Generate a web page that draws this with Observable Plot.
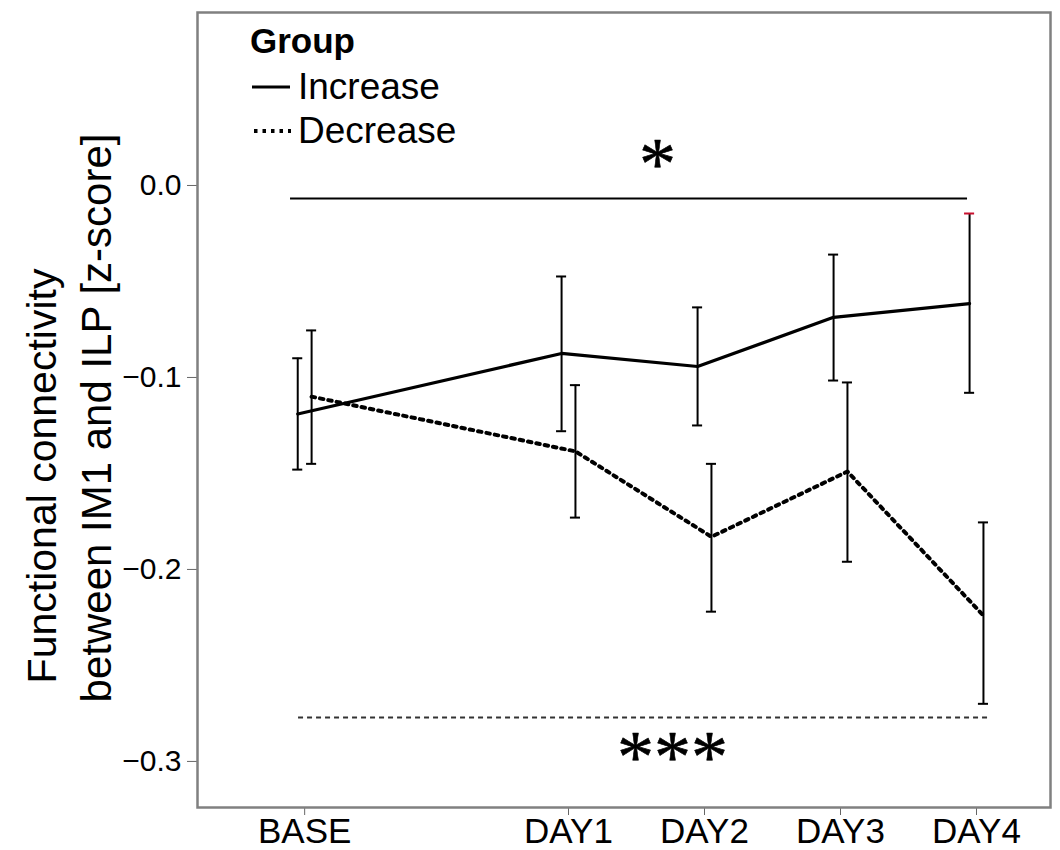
<!DOCTYPE html>
<html>
<head>
<meta charset="utf-8">
<script src="https://cdn.jsdelivr.net/npm/d3@7"></script>
<script src="https://cdn.jsdelivr.net/npm/@observablehq/plot@0.6"></script>
<style>
  html, body { margin: 0; padding: 0; background: white; }
  #wrap { position: relative; width: 1060px; height: 850px; font-family: "Liberation Sans", Arial, Helvetica, sans-serif; }
  #legend { position: absolute; left: 0; top: 0; pointer-events: none; }
</style>
</head>
<body>
<div id="wrap"></div>
<script>
// ---------------- data ----------------
const sessions = ["BASE", "DAY1", "DAY2", "DAY3", "DAY4"];
const sessionPos = [-0.94, 1, 2, 3, 4];
const groups = ["Increase", "Decrease"];

const incMean = [-0.119, -0.0875, -0.0943, -0.0687, -0.0615];
const incLo   = [-0.148, -0.128, -0.125, -0.1016, -0.108];
const incHi   = [-0.090, -0.0474, -0.0635, -0.036, -0.0146];

const decMean = [-0.110, -0.1385, -0.183, -0.149, -0.224];
const decLo   = [-0.145, -0.173, -0.222, -0.196, -0.270];
const decHi   = [-0.0755, -0.104, -0.145, -0.1026, -0.1755];

const yTicks = [0, -0.1, -0.2, -0.3];
const yTitle = ["Functional connectivity", "between IM1 and ILP [z-score]"];
const legendTitle = "Group";

// significance brackets (data units)
const sigInc = {y: -0.0068, x1: -1.044, x2: 3.934, label: "*", lx: 1.654, ly: 0.0156};
const sigDec = {y: -0.2771, x1: -0.985, x2: 4.088, label: "***", lx: 1.765, ly: -0.2932};

// ---------------- build ----------------
const dodge = {Increase: -0.051, Decrease: 0.051};
function rows(group, mean, lo, hi) {
  return sessions.map((s, i) => ({group, session: s, x: sessionPos[i] + dodge[group], mean: mean[i], lo: lo[i], hi: hi[i]}));
}
const inc = rows("Increase", incMean, incLo, incHi);
const dec = rows("Decrease", decMean, decLo, decHi);
const all = inc.concat(dec);
const cap = 0.037;
const isRed = d => d.group === "Increase" && d.session === "DAY4";

const chart = Plot.plot({
  width: 1060,
  height: 850,
  marginTop: 12,
  marginBottom: 43,
  marginLeft: 197,
  marginRight: 10,
  style: {fontFamily: "'Liberation Sans', Arial, Helvetica, sans-serif", background: "white", color: "black"},
  x: {domain: [-1.728, 4.544]},
  y: {domain: [-0.324, 0.0901]},
  marks: [
    Plot.axisY({ticks: yTicks, tickFormat: d3.format(".1f"), fontSize: 30, tickSize: 10, tickPadding: 6, stroke: "#666", fill: "black", label: null}),
    Plot.axisX({ticks: sessionPos, tickFormat: (d, i) => sessions[i], fontSize: 35, tickSize: 8, tickPadding: 3, stroke: "#666", fill: "black", label: null}),
    Plot.frame({stroke: "#808080", strokeWidth: 2.5}),
    // significance lines
    Plot.ruleY([sigInc], {y: "y", x1: "x1", x2: "x2", stroke: "black", strokeWidth: 2}),
    Plot.ruleY([sigDec], {y: "y", x1: "x1", x2: "x2", stroke: "#333", strokeWidth: 2, strokeDasharray: "5,4"}),
    Plot.text([sigInc, sigDec], {x: "lx", y: "ly", text: "label", fontFamily: "'Liberation Serif', 'Times New Roman', serif", fontSize: 74, lineAnchor: "middle", dy: 10, fill: "black", stroke: "black", strokeWidth: 0.6}),
    // error bars
    Plot.ruleX(all, {x: "x", y1: "lo", y2: "hi", stroke: "black", strokeWidth: 2}),
    Plot.ruleY(all, {y: "lo", x1: d => d.x - cap, x2: d => d.x + cap, stroke: "black", strokeWidth: 2}),
    Plot.ruleY(all.filter(d => !isRed(d)), {y: "hi", x1: d => d.x - cap, x2: d => d.x + cap, stroke: "black", strokeWidth: 2}),
    Plot.ruleY(all.filter(isRed), {y: "hi", x1: d => d.x - cap, x2: d => d.x + cap, stroke: "#c8102e", strokeWidth: 2}),
    // group lines
    Plot.line(inc, {x: "x", y: "mean", stroke: "black", strokeWidth: 3.2}),
    Plot.line(dec, {x: "x", y: "mean", stroke: "black", strokeWidth: 4, strokeDasharray: "3.5,5"})
  ]
});

const wrap = document.getElementById("wrap");
wrap.appendChild(chart);

// overlay: y-axis title and legend
const ns = "http://www.w3.org/2000/svg";
const lg = document.createElementNS(ns, "svg");
lg.setAttribute("id", "legend");
lg.setAttribute("width", "1060");
lg.setAttribute("height", "850");
lg.style.fontFamily = "'Liberation Sans', Arial, Helvetica, sans-serif";
function el(tag, attrs, txt) {
  const e = document.createElementNS(ns, tag);
  for (const k in attrs) e.setAttribute(k, attrs[k]);
  if (txt) e.textContent = txt;
  lg.appendChild(e);
  return e;
}
el("text", {transform: "translate(56,476) rotate(-90)", "text-anchor": "middle", "font-size": 41, fill: "black"}, yTitle[0]);
el("text", {transform: "translate(111,418) rotate(-90)", "text-anchor": "middle", "font-size": 42, fill: "black"}, yTitle[1]);
el("text", {x: 250, y: 53, "font-size": 35, "font-weight": "bold", fill: "black"}, legendTitle);
el("line", {x1: 252, x2: 290, y1: 87, y2: 87, stroke: "black", "stroke-width": 3});
el("text", {x: 298, y: 99, "font-size": 37, fill: "black"}, groups[0]);
el("line", {x1: 254, x2: 291, y1: 131, y2: 131, stroke: "black", "stroke-width": 4, "stroke-dasharray": "3.5,5"});
el("text", {x: 298, y: 143, "font-size": 37, fill: "black"}, groups[1]);
wrap.appendChild(lg);
</script>
</body>
</html>
